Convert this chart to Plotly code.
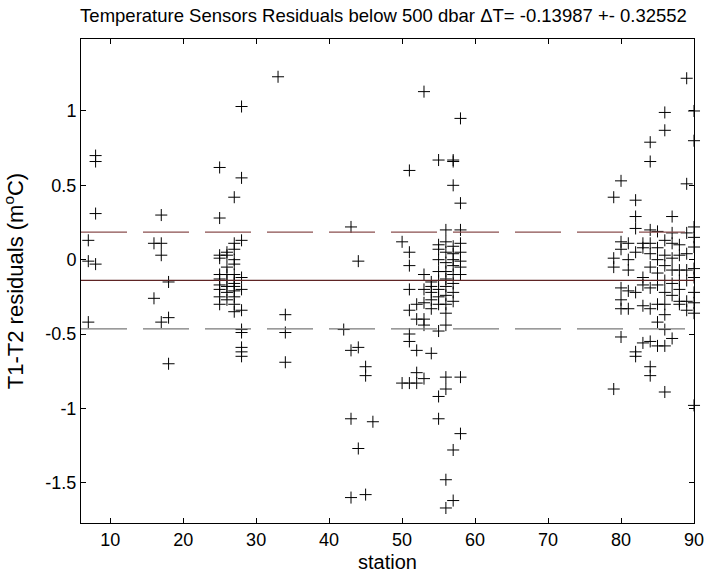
import plotly.graph_objects as go

# ---- data (station number, T1-T2 residual in m°C) ----
st07 = [0.13, -0.01, -0.42]
st08 = [0.70, 0.66, 0.31, -0.03]
st16 = [0.11, -0.26]
st17 = [0.30, 0.11, 0.03, -0.42]
st18 = [-0.15, -0.39, -0.70]
st25 = [0.62, 0.28, 0.03, 0.01, -0.10, -0.13, -0.17, -0.20, -0.25, -0.30]
st26 = [0.05, 0.03, -0.05, -0.10, -0.14, -0.18, -0.22, -0.27]
st27 = [0.42, 0.11, 0.07, 0.00, -0.03, -0.10, -0.14, -0.16, -0.18, -0.21, -0.25, -0.30, -0.35]
st28 = [1.03, 0.55, 0.13, -0.12, -0.20, -0.34, -0.47, -0.49, -0.59, -0.62, -0.65]
st33 = [1.23]
st34 = [-0.37, -0.49, -0.69]
st42 = [-0.47]
st43 = [0.22, -0.61, -1.07, -1.60]
st44 = [-0.01, -0.59, -1.27]
st45 = [-0.72, -0.78, -1.58]
st46 = [-1.09]
st50 = [0.12, -0.83]
st51 = [0.60, 0.05, -0.04, -0.20, -0.34, -0.50, -0.55, -0.83]
st52 = [-0.30, -0.40, -0.61, -0.76, -0.83]
st53 = [1.13, -0.10, -0.20, -0.29, -0.40, -0.44, -0.80]
st54 = [-0.15, -0.18, -0.22, -0.27, -0.33, -0.63]
st55 = [0.67, 0.10, 0.07, 0.00, -0.08, -0.14, -0.20, -0.25, -0.30, -0.48, -0.92, -1.07]
st56 = [0.20, 0.12, 0.05, -0.02, -0.08, -0.13, -0.18, -0.24, -0.30, -0.36, -0.44, -0.79, -0.87, -1.48, -1.67]
st57 = [0.67, 0.66, 0.50, 0.09, 0.04, 0.00, -0.04, -0.10, -0.16, -0.22, -0.28, -1.28, -1.62]
st58 = [0.95, 0.38, 0.20, 0.11, 0.05, -0.01, -0.05, -0.10, -0.79, -1.17]
st79 = [0.42, 0.01, -0.05, -0.87]
st80 = [0.53, 0.12, 0.07, -0.19, -0.27, -0.33, -0.52]
st81 = [0.11, 0.00, -0.07, -0.21, -0.33]
st82 = [0.40, 0.29, 0.21, 0.05, -0.22, -0.62, -0.65]
st83 = [0.11, 0.08, -0.12, -0.17, -0.31, -0.56]
st84 = [0.79, 0.66, 0.20, 0.11, 0.04, -0.05, -0.19, -0.33, -0.55, -0.72, -0.78]
st85 = [0.19, 0.08, 0.00, -0.09, -0.14, -0.17, -0.30, -0.42, -0.58]
st86 = [0.99, 0.87, 0.13, 0.03, -0.04, -0.14, -0.22, -0.30, -0.37, -0.47, -0.58, -0.89]
st87 = [0.29, 0.18, 0.11, 0.01, -0.07, -0.16, -0.24, -0.53]
st88 = [0.10, 0.03, -0.07, -0.14, -0.20, -0.28, -0.30]
st89 = [1.22, 0.51, 0.18, 0.04, -0.07, -0.14, -0.28, -0.34]
st90 = [1.00, 0.80, 0.22, 0.15, 0.085, -0.06, -0.12, -0.22, -0.29, -0.36, -0.98]

groups = {
    7: st07, 8: st08, 16: st16, 17: st17, 18: st18, 25: st25, 26: st26, 27: st27,
    28: st28, 33: st33, 34: st34, 42: st42, 43: st43, 44: st44, 45: st45, 46: st46,
    50: st50, 51: st51, 52: st52, 53: st53, 54: st54, 55: st55, 56: st56, 57: st57,
    58: st58, 79: st79, 80: st80, 81: st81, 82: st82, 83: st83, 84: st84, 85: st85,
    86: st86, 87: st87, 88: st88, 89: st89, 90: st90,
}

mean_dT = -0.13987
std_dT = 0.32552
x_range = [6, 90]
y_range = [-1.771, 1.484]
x_ticks = [10, 20, 30, 40, 50, 60, 70, 80, 90]
y_ticks = [-1.5, -1, -0.5, 0, 0.5, 1]
y_ticktext = ["-1.5", "-1", "-0.5", "0", "0.5", "1"]

stations = [s for s, vals in groups.items() for _ in vals]
residuals = [v for vals in groups.values() for v in vals]

FONT = "Liberation Sans, Arial, sans-serif"
W, H = 704, 571

fig = go.Figure()

fig.add_trace(go.Scatter(
    x=stations, y=residuals, mode="markers",
    marker=dict(symbol="cross-thin", size=8.6, color="black",
                line=dict(color="black", width=1)),
    cliponaxis=False, showlegend=False, hoverinfo="skip",
))

# mean and +- std lines
fig.add_trace(go.Scatter(
    x=x_range, y=[mean_dT + std_dT] * 2, mode="lines",
    line=dict(color="#8a4f4f", width=1.3, dash="46px,16px"), showlegend=False,
    hoverinfo="skip",
))
fig.add_trace(go.Scatter(
    x=x_range, y=[mean_dT] * 2, mode="lines",
    line=dict(color="#5e2424", width=1.2), showlegend=False, hoverinfo="skip",
))
fig.add_trace(go.Scatter(
    x=x_range, y=[mean_dT - std_dT] * 2, mode="lines",
    line=dict(color="#7a7a7a", width=1.3, dash="46px,16px"), showlegend=False,
    hoverinfo="skip",
))

fig.update_layout(
    template="none",
    width=W, height=H,
    margin=dict(l=81, r=10, t=39, b=48, autoexpand=False),
    paper_bgcolor="white", plot_bgcolor="white",
    font=dict(family=FONT, size=18, color="black"),
    hovermode=False,
    title=dict(
        text="Temperature Sensors Residuals below 500 dbar ΔT= -0.13987 +- 0.32552",
        x=383.5 / W, xref="container", xanchor="center",
        y=1 - 15.5 / H, yref="container", yanchor="middle",
        font=dict(family=FONT, size=18.5, color="black"),
    ),
    xaxis=dict(
        range=x_range, tickvals=x_ticks, ticks="inside", ticklen=5,
        tickwidth=1, tickcolor="black", showline=True, linecolor="black",
        linewidth=1, mirror="ticks", showgrid=False, zeroline=False,
        automargin=False, ticklabelstandoff=0, ticklabeloverflow="allow",
        tickfont=dict(size=18),
    ),
    yaxis=dict(
        range=y_range, tickvals=y_ticks, ticktext=y_ticktext, ticks="inside",
        ticklen=5, tickwidth=1, tickcolor="black", showline=True,
        linecolor="black", linewidth=1, mirror="ticks", showgrid=False,
        zeroline=False, automargin=False, ticklabeloverflow="allow",
        title=dict(text="T1-T2 residuals (m<sup>o</sup>C)", standoff=25),
        tickfont=dict(size=18),
    ),
    annotations=[dict(
        text="station", xref="paper", yref="paper", x=0.5, y=0,
        xanchor="center", yanchor="middle", yshift=-39, showarrow=False,
        font=dict(family=FONT, size=20, color="black"),
    )],
)

fig.write_html(
    "out.html",
    config={"displayModeBar": False, "staticPlot": True},
    post_script="document.body.style.margin='0px';",
)
